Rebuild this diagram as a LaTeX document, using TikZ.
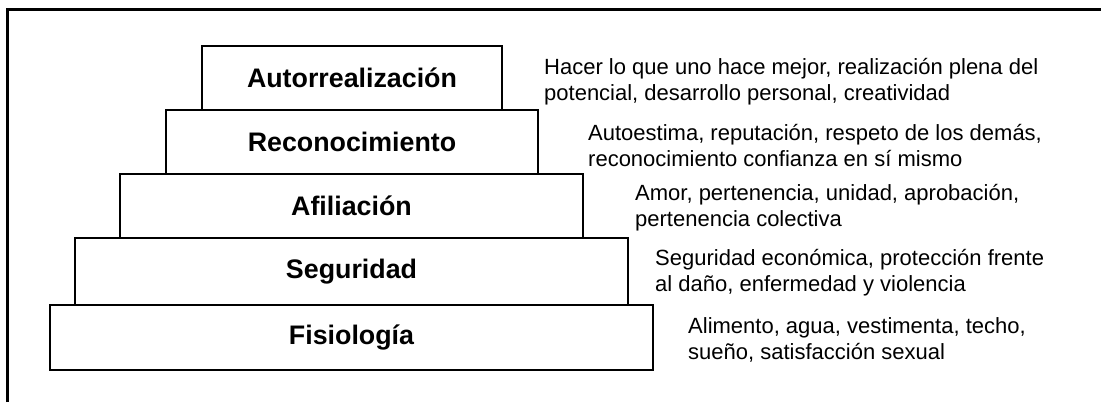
\documentclass[tikz,border=0pt]{standalone}
\usepackage{fontspec}
\setmainfont{Liberation Sans}
\begin{document}
\begin{tikzpicture}[x=1bp,y=-1bp,
  tier/.style={draw=black, line width=2bp, fill=white, inner sep=0pt,
    font=\fontsize{26.8bp}{30bp}\selectfont\bfseries},
  desc/.style={anchor=west, align=left, inner sep=0pt,
    font=\fontsize{22bp}{26bp}\selectfont}]
\useasboundingbox (0,0) rectangle (1101,402);
% frame
\coordinate (fbl) at (7.5,402);
\coordinate (ftl) at (7.5,9.5);
\coordinate (ftr) at (1101,9.5);
\draw[line width=2.5bp] (fbl) -- (ftl) -- (ftr);
% tiers
\node[tier, minimum width=300bp, minimum height=64bp] (t1) at (352,78) {Autorrealización};
\node[tier, minimum width=372bp, minimum height=64bp] (t2) at (352,142) {Reconocimiento};
\node[tier, minimum width=463bp, minimum height=64bp] (t3) at (351.5,206) {Afiliación};
\node[tier, minimum width=553bp, minimum height=67bp] (t4) at (351.5,271.5) {Seguridad};
\node[tier, minimum width=603bp, minimum height=65bp] (t5) at (351.5,337.5) {Fisiología};
% descriptions
\node[desc] (d1) at (544,81.5) {Hacer lo que uno hace mejor, realización plena del\\potencial, desarrollo personal, creatividad};
\node[desc] (d2) at (588,145.5) {Autoestima, reputación, respeto de los demás,\\reconocimiento confianza en sí mismo};
\node[desc] (d3) at (635,207.5) {Amor, pertenencia, unidad, aprobación,\\pertenencia colectiva};
\node[desc] (d4) at (655,273) {Seguridad económica, protección frente\\al daño, enfermedad y violencia};
\node[desc] (d5) at (688,340) {Alimento, agua, vestimenta, techo,\\sueño, satisfacción sexual};
\end{tikzpicture}
\end{document}
